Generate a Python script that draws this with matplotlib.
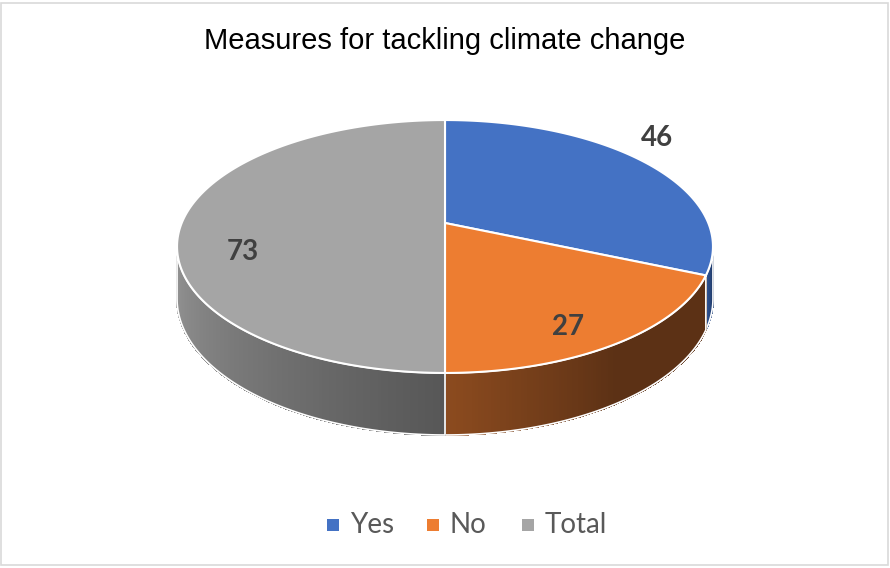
import numpy as np
import matplotlib
matplotlib.use("Agg")
import matplotlib.pyplot as plt
from matplotlib.patches import Polygon, Rectangle
from matplotlib.colors import to_rgb

# chart data
labels = ["Yes", "No", "Total"]
values = [46, 27, 73]
top_colors = ["#4472C4", "#ED7D31", "#A5A5A5"]
# side wall shading (left -> right)
side_colors = [("#2F5597", "#1F3864"), ("#8C4B1F", "#5C3115"), ("#969696", "#575757")]
label_xy = [(657, 138), (568, 327), (243, 252)]

# projection of the tilted pie (pixel space)
CX, CY = 445, 223
K = 0.1858
A, B = 263.3, 122.1
H = 50.5


def proj(t, drop=0.0):
    u, v = np.cos(t), np.sin(t)
    den = 1 + K * v
    return CX + A * u / den, CY + (-B * v + drop) / den


fig = plt.figure(figsize=(8.9, 5.68), dpi=100)
ax = fig.add_axes([0, 0, 1, 1])
ax.set_xlim(0, 890)
ax.set_ylim(568, 0)
ax.axis("off")

ax.add_patch(Rectangle((1, 3), 887, 562, fill=False, edgecolor="#D9D9D9", lw=1.2))

total = sum(values)
cum = np.concatenate([[0], np.cumsum(values)])
starts = np.radians(90 - 360 * cum[:-1] / total)
ends = np.radians(90 - 360 * cum[1:] / total)

# front facing part of the rim
t_right = np.arcsin(-K)
t_left = -np.pi - t_right

# side walls
for i in range(len(values)):
    lo, hi = ends[i], starts[i]
    a = max(lo, t_left)
    b = min(hi, t_right)
    if b <= a:
        continue
    c0, c1 = np.array(to_rgb(side_colors[i][0])), np.array(to_rgb(side_colors[i][1]))
    n = 120
    ts = np.linspace(a, b, n + 1)
    for j in range(n):
        seg = np.linspace(ts[j], ts[j + 1], 4)
        xt, yt = proj(seg)
        xb, yb = proj(seg[::-1], H)
        f = j / max(n - 1, 1)
        if i == 1:
            f = min(1.0, f * 2.0)
        col = c0 * (1 - f) + c1 * f
        ax.add_patch(Polygon(np.column_stack([np.r_[xt, xb], np.r_[yt, yb]]),
                             closed=True, facecolor=col, edgecolor=col, lw=0.8,
                             antialiased=False))
    seg = np.linspace(a, b, 100)
    xt, yt = proj(seg)
    xb, yb = proj(seg[::-1], H)
    ax.add_patch(Polygon(np.column_stack([np.r_[xt, xb], np.r_[yt, yb]]),
                         closed=True, fill=False, edgecolor="white", lw=1.2))

# top faces
for i in range(len(values)):
    seg = np.linspace(starts[i], ends[i], 200)
    xs, ys = proj(seg)
    pts = np.column_stack([np.r_[CX, xs], np.r_[CY, ys]])
    ax.add_patch(Polygon(pts, closed=True, facecolor=top_colors[i],
                         edgecolor="white", lw=1.5))

for (x, y), v in zip(label_xy, values):
    ax.text(x, y, str(v), ha="center", va="center", fontsize=20,
            fontweight="bold", color="#404040", family="Lato")

ax.text(445, 41, "Measures for tackling climate change", ha="center", va="center",
        fontsize=21, color="black", family="Liberation Sans")

# legend
leg_x = [327, 427, 522]
for x, name, col in zip(leg_x, labels, top_colors):
    ax.add_patch(Rectangle((x, 519), 12, 12, facecolor=col, edgecolor="none"))
    ax.text(x + 23, 525, name, ha="left", va="center", fontsize=20,
            color="#595959", family="Lato")

fig.savefig("out.png", dpi=100)
